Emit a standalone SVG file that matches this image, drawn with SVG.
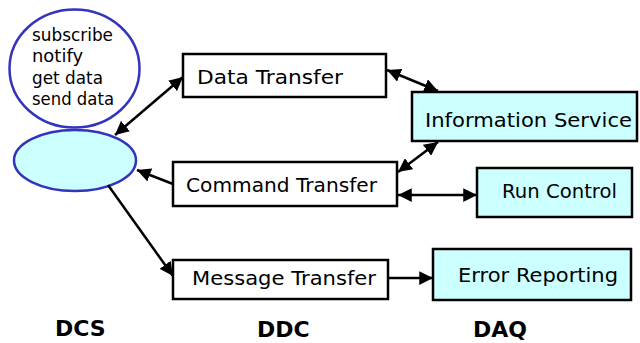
<svg xmlns="http://www.w3.org/2000/svg" width="640" height="343" viewBox="0 0 640 343">
<style>
.box{stroke:#000;stroke-width:2.5}
.w{fill:#fff}
.c{fill:#ccffff}
.t{font-family:"Comic Sans MS","DejaVu Sans",sans-serif;font-size:20px;fill:#000}
.s{font-family:"Comic Sans MS","DejaVu Sans",sans-serif;font-size:17px;fill:#000}
.b{font-family:"Comic Sans MS","DejaVu Sans",sans-serif;font-size:22px;font-weight:bold;fill:#000}
.ln{stroke:#000;stroke-width:2.5;fill:none}
.ell{stroke:#3333bb;stroke-width:2.5}
</style>
<defs>
<marker id="ah" viewBox="0 0 10 10" refX="10" refY="5" markerWidth="5.5" markerHeight="5.5" orient="auto-start-reverse" markerUnits="strokeWidth">
<path d="M0,0 L10,5 L0,10 z" fill="#000"/>
</marker>
</defs>
<g id="dcs-services">
<ellipse cx="74.5" cy="68.5" rx="65" ry="59" fill="#fff" class="ell"/>
<text class="s" x="32" y="41" textLength="81" lengthAdjust="spacingAndGlyphs">subscribe</text>
<text class="s" x="32" y="62" textLength="51" lengthAdjust="spacingAndGlyphs">notify</text>
<text class="s" x="32" y="84" textLength="71" lengthAdjust="spacingAndGlyphs">get data</text>
<text class="s" x="32" y="105" textLength="82" lengthAdjust="spacingAndGlyphs">send data</text>
</g>
<g id="dcs">
<ellipse cx="75" cy="160.5" rx="61" ry="30.5" class="ell c"/>
</g>
<g id="data-transfer">
<rect x="183" y="54" width="203" height="43" class="box w"/>
<text class="t" x="197" y="84" textLength="146" lengthAdjust="spacingAndGlyphs">Data Transfer</text>
</g>
<g id="command-transfer">
<rect x="173" y="162" width="224" height="44" class="box w"/>
<text class="t" x="186" y="192" textLength="191" lengthAdjust="spacingAndGlyphs">Command Transfer</text>
</g>
<g id="message-transfer">
<rect x="173" y="260" width="215" height="39" class="box w"/>
<text class="t" x="192" y="285" textLength="184" lengthAdjust="spacingAndGlyphs">Message Transfer</text>
</g>
<g id="information-service">
<rect x="412" y="92" width="225" height="49" class="box c"/>
<text class="t" x="425" y="127" textLength="207" lengthAdjust="spacingAndGlyphs">Information Service</text>
</g>
<g id="run-control">
<rect x="477" y="168" width="155" height="49" class="box c"/>
<text class="t" x="502" y="198" textLength="115" lengthAdjust="spacingAndGlyphs">Run Control</text>
</g>
<g id="error-reporting">
<rect x="433" y="249" width="198" height="51" class="box c"/>
<text class="t" x="458" y="282" textLength="160" lengthAdjust="spacingAndGlyphs">Error Reporting</text>
</g>
<g id="labels">
<text class="b" x="55" y="336">DCS</text>
<text class="b" x="257" y="337">DDC</text>
<text class="b" x="473" y="337">DAQ</text>
</g>
<g id="connectors">
<line class="ln" x1="115" y1="135" x2="183" y2="77" marker-start="url(#ah)" marker-end="url(#ah)"/>
<line class="ln" x1="173" y1="184" x2="137" y2="170" marker-end="url(#ah)"/>
<line class="ln" x1="108" y1="185" x2="173" y2="276" marker-end="url(#ah)"/>
<line class="ln" x1="387" y1="70" x2="438" y2="91" marker-start="url(#ah)" marker-end="url(#ah)"/>
<line class="ln" x1="438" y1="142" x2="398" y2="172" marker-start="url(#ah)" marker-end="url(#ah)"/>
<line class="ln" x1="398" y1="195" x2="477" y2="195" marker-start="url(#ah)" marker-end="url(#ah)"/>
<line class="ln" x1="388" y1="278" x2="433" y2="278" marker-end="url(#ah)"/>
</g>
</svg>
